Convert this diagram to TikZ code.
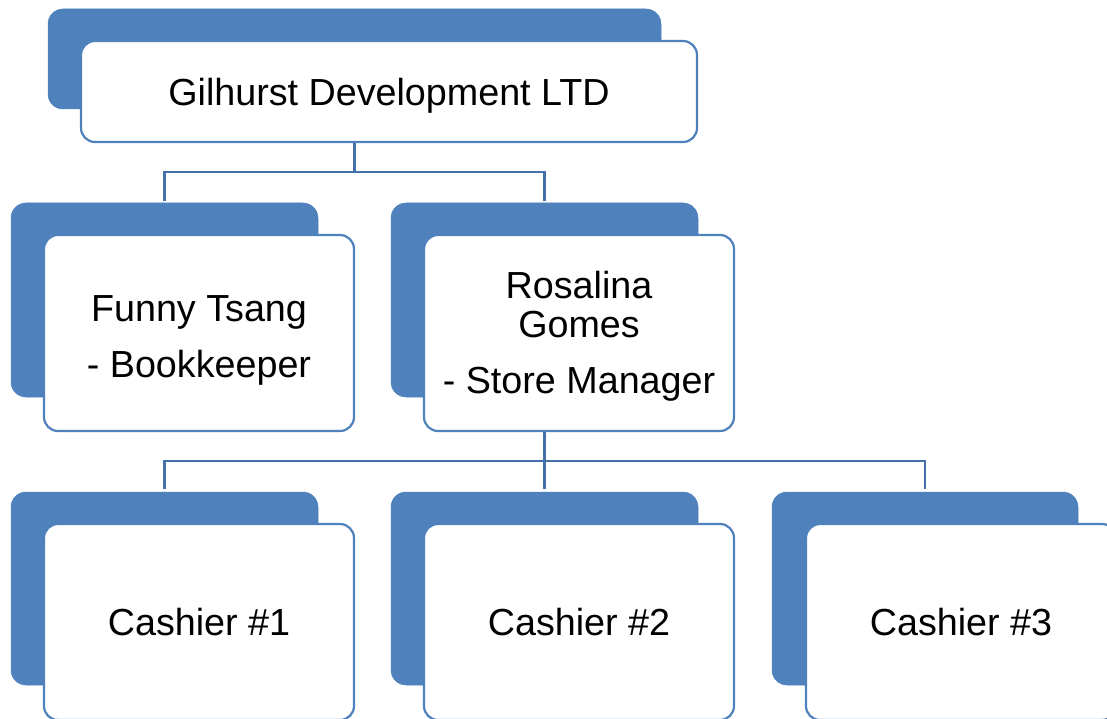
\documentclass[tikz,border=0pt]{standalone}
\usepackage{fontspec}
\setmainfont{Liberation Sans}
\usetikzlibrary{calc}
\definecolor{accent}{HTML}{4F81BD}
\definecolor{linkc}{HTML}{4571AA}
\tikzset{
  back/.style={fill=accent, draw=accent, line width=0.5pt, rounded corners=15pt, inner sep=0pt},
  front/.style={fill=white, draw=accent, line width=2.2pt, rounded corners=14pt, inner sep=0pt,
    align=center, font=\fontsize{37.7}{39}\selectfont},
  conn/.style={draw=linkc, line width=2.6pt},
}
\begin{document}
\begin{tikzpicture}[x=1pt,y=-1pt]
\useasboundingbox (0,0) rectangle (1107,719);
\begin{scope}
\clip (0,0) rectangle (1107,719);
% back cards
\node[back, minimum width=613pt, minimum height=100pt] (topb) at (354.5,59) {};
\node[back, minimum width=307pt, minimum height=194pt] (fb) at (164.5,300) {};
\node[back, minimum width=307pt, minimum height=194pt] (rb) at (544.5,300) {};
\node[back, minimum width=307pt, minimum height=193pt] (c1b) at (164.5,588.5) {};
\node[back, minimum width=307pt, minimum height=193pt] (c2b) at (544.5,588.5) {};
\node[back, minimum width=306pt, minimum height=193pt] (c3b) at (925,588.5) {};
% front cards
\node[front, minimum width=616pt, minimum height=101pt, text depth=0pt] (topw) at (389,91.5) {Gilhurst Development LTD};
\node[front, minimum width=310pt, minimum height=196pt] (fw) at (199,333) {\rule{0pt}{40pt}Funny Tsang\\[17pt]- Bookkeeper};
\node[front, minimum width=310pt, minimum height=196pt] (rw) at (579,333) {\rule{0pt}{33.5pt}Rosalina\\Gomes\\[17pt]- Store Manager};
\node[front, minimum width=310pt, minimum height=196pt] (c1w) at (199,622) {Cashier \#1};
\node[front, minimum width=310pt, minimum height=196pt] (c2w) at (579,622) {Cashier \#2};
\node[front, minimum width=310pt, minimum height=196pt] (c3w) at (961,622) {Cashier \#3};
% connectors
\coordinate (j1) at ($(topb.center |- topw.south)+(0,29)$);
\draw[conn] (topb.center |- topw.south) -- (j1);
\draw[conn, shorten >=2pt] (j1) -| (fb.north);
\draw[conn, shorten >=2pt] (j1) -| (rb.north);
\coordinate (j2) at ($(rb.center |- rw.south)+(0,29)$);
\draw[conn] (rb.center |- rw.south) -- (j2);
\draw[conn, shorten >=3pt] (j2) -| (c1b.north);
\draw[conn, shorten >=3pt] (j2) -| (c2b.north);
\draw[conn, shorten >=3pt] (j2) -| (c3b.north);
\end{scope}
\end{tikzpicture}
\end{document}
